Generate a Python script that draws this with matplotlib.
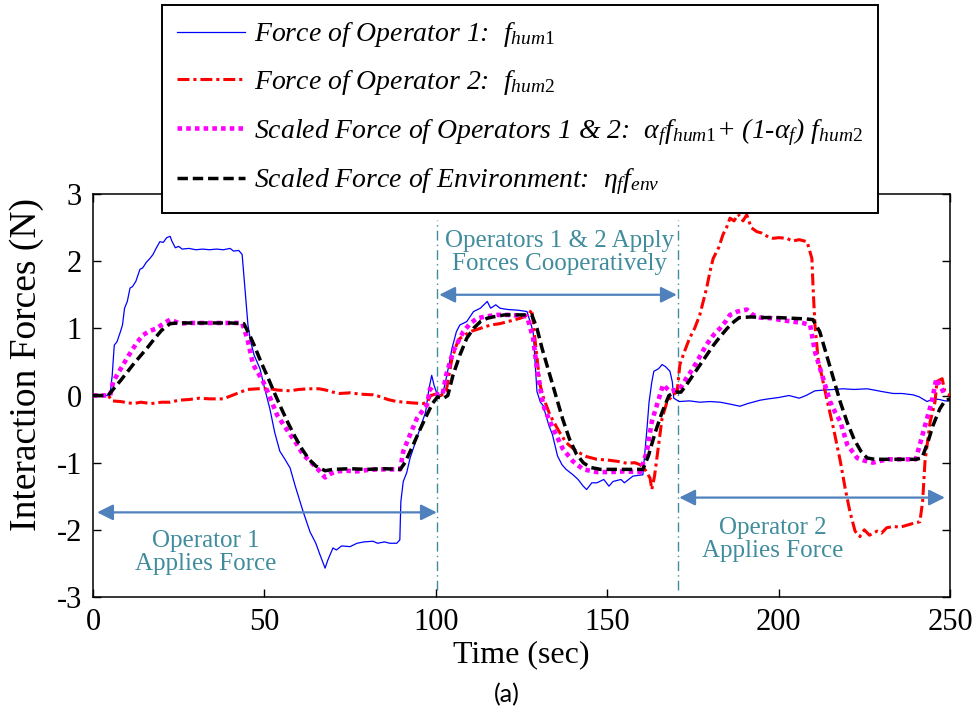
import numpy as np
import matplotlib
matplotlib.use('Agg')
import matplotlib.pyplot as plt

# interaction force traces (time in sec, force in N)
t_hum1 = [0, 4, 5, 5.6, 6.2, 7, 8, 8.6, 9.2, 10, 10.8, 11.5, 12.5, 13.7, 14.5, 15.5, 16.6, 17.5,
          18.5, 19.5, 20.5, 21.5, 22.5, 23, 24, 25, 26, 28, 30, 32, 34, 36, 38, 40, 41, 42.5, 43.5,
          44.3, 45.2, 46, 47, 48.7, 50, 51.6, 53, 54.5, 56, 57.5, 59, 61.3, 63.3, 65, 66.2, 67.7,
          68.5, 70, 71, 72.5, 75, 77, 79, 81.7, 83, 85, 86.6, 88.6, 89.5, 89.8, 90.5, 91.5, 92.5,
          94, 95.4, 97, 98, 98.8, 99.5, 100.5, 102, 103, 104, 104.7, 106, 107, 109, 111, 113, 115,
          116, 117.5, 118.7, 121, 124, 126.6, 128.4, 129.5, 130.5, 131.3, 133, 134, 135.5, 136.8,
          138, 140, 141.5, 143, 144, 145.5, 147, 149, 150.5, 151.7, 154, 155, 157.5, 160.4, 161.6,
          162.2, 163, 163.6, 165, 166, 167, 168.3, 169, 169.4, 171, 174, 177, 180, 183, 186, 188.7,
          191, 194.6, 197, 200, 203, 206, 208, 210.6, 213, 216, 218.8, 222, 225.8, 228, 230, 233.4,
          236, 239.2, 241, 243.3, 245, 247, 248.5, 250]
f_hum1 = [0, 0, 0.02, 0.3, 0.75, 0.8, 0.95, 1.05, 1.3, 1.4, 1.6, 1.62, 1.7, 1.88, 1.9, 1.98, 2.04, 2.1,
          2.2, 2.29, 2.28, 2.35, 2.37, 2.3, 2.2, 2.22, 2.18, 2.19, 2.17, 2.18, 2.17, 2.18, 2.17, 2.19,
          2.15, 2.16, 2.1, 1.6, 1.05, 0.8, 0.6, 0.4, 0.12, -0.2, -0.55, -0.83, -0.95, -1.08, -1.35,
          -1.73, -2.03, -2.2, -2.37, -2.57, -2.45, -2.27, -2.3, -2.24, -2.25, -2.2, -2.18, -2.17,
          -2.2, -2.18, -2.2, -2.2, -2.15, -1.58, -1.28, -1.15, -0.93, -0.7, -0.49, -0.25, 0.1, 0.3,
          0.15, 0.0, 0.02, 0.25, 0.5, 0.7, 0.95, 1.05, 1.1, 1.25, 1.3, 1.4, 1.3, 1.35, 1.3, 1.28,
          1.27, 1.25, 0.95, 0.06, -0.1, -0.15, -0.45, -0.58, -0.9, -1.03, -1.1, -1.18, -1.25, -1.35,
          -1.4, -1.3, -1.3, -1.25, -1.35, -1.28, -1.25, -1.3, -1.2, -1.18, -0.49, -0.1, 0.2, 0.36,
          0.4, 0.46, 0.43, 0.36, 0.2, -0.04, -0.09, -0.08, -0.1, -0.09, -0.1, -0.13, -0.16, -0.12,
          -0.07, -0.05, -0.03, 0.0, -0.04, 0.0, 0.07, 0.08, 0.09, 0.1, 0.09, 0.1, 0.08, 0.06, 0.03,
          0.03, 0.01, -0.02, -0.09, -0.05, -0.06, -0.08, -0.08]

t_hum2 = [0, 4.5, 5.5, 8, 11.7, 14, 17, 20, 22.5, 25, 28, 31, 34, 38, 41, 43, 45, 48, 51.6, 54, 57.5,
          60, 63, 66, 68, 70, 72, 75, 78, 81.7, 84, 86, 88.6, 91, 93, 96.3, 97.5, 98.5, 100, 101.5,
          103, 104.7, 106, 107, 110, 113, 116, 118.7, 121, 124.6, 127, 128, 129, 130.4, 131.5, 133.3,
          136, 138, 141, 144, 147, 150, 153, 155.8, 158, 159.6, 161, 162.5, 163, 163.8, 164.5, 166,
          167.4, 169, 170.4, 171.2, 172.5, 174, 175.5, 177, 178, 179, 180, 180.9, 182.5, 183.8, 184.8,
          185.8, 187, 188.2, 189.6, 190.7, 192, 193.6, 195, 197, 198.4, 200, 202.4, 204, 206, 208.3,
          209.7, 210.1, 210.6, 211.5, 213, 214, 216, 218, 219.4, 220.8, 222.3, 223.7, 225, 226.5,
          228.7, 230, 231.5, 233.4, 235.5, 237.5, 239.5, 241.2, 242, 242.7, 244.2, 245.6, 246.2,
          247.7, 248.5, 250]
f_hum2 = [0, 0, -0.08, -0.09, -0.12, -0.1, -0.12, -0.1, -0.1, -0.07, -0.06, -0.04, -0.05, -0.05, 0.01,
          0.05, 0.09, 0.1, 0.1, 0.08, 0.07, 0.09, 0.1, 0.1, 0.08, 0.05, 0.03, 0.04, 0.02, 0.01, -0.02,
          -0.06, -0.09, -0.1, -0.11, -0.12, -0.1, 0.0, 0.02, 0.0, 0.06, 0.55, 0.75, 0.85, 0.95, 1.0,
          1.05, 1.07, 1.1, 1.15, 1.2, 1.28, 0.8, 0.16, -0.05, -0.29, -0.54, -0.7, -0.83, -0.91, -0.95,
          -0.96, -0.98, -1.01, -1.0, -1.03, -1.1, -1.23, -1.4, -1.2, -0.93, -0.34, -0.1, 0.0, 0.06,
          0.46, 0.65, 0.85, 1.0, 1.2, 1.4, 1.6, 1.85, 2.04, 2.2, 2.4, 2.5, 2.64, 2.6, 2.7, 2.6, 2.69,
          2.5, 2.44, 2.42, 2.36, 2.34, 2.35, 2.34, 2.3, 2.32, 2.29, 2.04, 1.55, 1.05, 0.55, 0.2, -0.04,
          -0.49, -0.98, -1.38, -1.73, -2.02, -2.1, -2.0, -2.08, -2.02, -2.05, -1.97, -1.95, -1.96,
          -1.93, -1.9, -1.88, -1.58, -0.98, -0.39, -0.1, 0.21, 0.25, 0.06, 0.0]

t_mix = [0, 5, 5.9, 7.3, 8.8, 10.2, 11.7, 13, 14.6, 16.5, 18.6, 20.5, 22.5, 25.4, 28, 32, 36, 40, 43.5,
         45, 46.7, 49.6, 51, 52.5, 53.7, 55.5, 57.5, 59.5, 61.3, 63.3, 65.3, 67.7, 69.5, 71.2, 74, 77,
         80, 83, 86.6, 89.6, 90.5, 92.5, 94.5, 97.4, 98.3, 100.6, 102, 103, 105, 108, 110, 112, 115,
         117.8, 121, 124, 126.6, 128.4, 129.5, 131.3, 132.8, 134.2, 137, 140, 143, 147, 151, 155,
         159.6, 161.6, 163, 164.5, 166.3, 168.3, 171.2, 173, 175, 177, 179, 181, 182.9, 184.5, 185.8,
         188, 190.7, 192.5, 194.6, 198, 201, 204.2, 207, 209.2, 210.6, 213, 215, 216.5, 218, 220,
         222.9, 225, 227.5, 229, 232, 236, 240, 242, 243.3, 244.7, 246, 247.6, 248.5]
f_mix = [0, 0, 0.21, 0.33, 0.46, 0.58, 0.7, 0.8, 0.9, 0.96, 1.0, 1.07, 1.13, 1.07, 1.08, 1.08, 1.08,
         1.08, 1.08, 0.85, 0.46, 0.21, 0.05, -0.14, -0.29, -0.43, -0.58, -0.73, -0.88, -0.98, -1.08,
         -1.22, -1.16, -1.13, -1.12, -1.13, -1.11, -1.1, -1.1, -1.1, -0.83, -0.58, -0.34, -0.14, 0.1,
         0.01, 0.02, 0.3, 0.65, 0.95, 1.07, 1.15, 1.18, 1.2, 1.2, 1.19, 1.18, 0.85, 0.4, -0.14, -0.33,
         -0.49, -0.79, -0.98, -1.1, -1.14, -1.14, -1.13, -1.14, -0.83, -0.39, -0.14, 0.16, 0.06, 0.1,
         0.25, 0.4, 0.58, 0.76, 0.9, 1.0, 1.1, 1.2, 1.25, 1.28, 1.2, 1.16, 1.15, 1.12, 1.1, 1.08, 1.05,
         0.65, 0.25, -0.09, -0.25, -0.39, -0.73, -0.93, -0.97, -1.0, -0.98, -0.95, -0.95, -0.95, -0.58,
         -0.34, -0.09, 0.25, 0.1, 0.0]

t_env = [0, 4.4, 6, 8, 10, 12, 14, 16, 18, 20, 22.5, 25, 30, 35, 40, 44, 45.5, 47, 49, 51, 53, 55, 57,
         59, 61, 63, 65, 67.7, 70, 75, 80, 85, 89.6, 91, 93, 95, 97, 99, 100.5, 102, 103.5, 105, 107,
         109, 111, 113, 115, 116.7, 120, 124, 128, 129.5, 131, 133, 135, 137, 139, 141, 143, 145, 148,
         152, 156, 160.4, 162, 164, 166, 168, 170, 171.5, 173, 175, 177, 179, 181, 183, 185, 187,
         188.5, 192, 196, 200, 204, 208, 210, 212, 214, 216, 218, 220, 222, 224, 225.8, 228, 232, 236,
         240, 241.8, 243.5, 245, 247, 248.5, 250]
f_env = [0, 0, 0.1, 0.22, 0.35, 0.48, 0.6, 0.72, 0.85, 0.97, 1.07, 1.08, 1.08, 1.08, 1.08, 1.07, 0.92,
         0.75, 0.5, 0.27, 0.03, -0.2, -0.42, -0.62, -0.8, -0.95, -1.05, -1.12, -1.1, -1.09, -1.1,
         -1.09, -1.1, -1.0, -0.78, -0.55, -0.33, -0.12, -0.02, -0.05, 0.0, 0.3, 0.6, 0.85, 1.0, 1.1,
         1.15, 1.17, 1.2, 1.2, 1.2, 1.0, 0.7, 0.35, 0.0, -0.35, -0.65, -0.87, -1.0, -1.07, -1.1, -1.1,
         -1.1, -1.1, -0.9, -0.55, -0.25, 0.0, 0.05, 0.05, 0.15, 0.3, 0.45, 0.6, 0.75, 0.88, 1.0, 1.1,
         1.16, 1.17, 1.16, 1.16, 1.15, 1.14, 1.13, 0.95, 0.6, 0.25, -0.1, -0.4, -0.65, -0.83, -0.93,
         -0.95, -0.95, -0.95, -0.95, -0.93, -0.7, -0.45, -0.2, -0.08, -0.05]

# phase boundaries and annotations
phase_edges = [100.3, 170.5]
phase_arrows = [(1.2, 100.3, -1.74), (101.0, 170.3, 1.50), (171.0, 248.5, -1.52)]
phase_texts = [(32.8, -2.34, 'Operator 1\nApplies Force'),
               (136.0, 2.13, 'Operators 1 & 2 Apply\nForces Cooperatively'),
               (198.4, -2.15, 'Operator 2\nApplies Force')]

plt.rcParams['font.family'] = ['Liberation Serif', 'DejaVu Serif']
plt.rcParams['mathtext.fontset'] = 'custom'
plt.rcParams['mathtext.rm'] = 'Liberation Serif'
plt.rcParams['mathtext.it'] = 'Liberation Serif:italic'
plt.rcParams['mathtext.bf'] = 'Liberation Serif:bold'
plt.rcParams['axes.unicode_minus'] = False

fig = plt.figure(figsize=(9.77, 7.13), dpi=100)
ax = fig.add_axes([0.0952, 0.1627, 0.8772, 0.5652])

teal = '#408c9d'
arrow_c = '#4f81bd'

for xe in phase_edges:
    ax.plot([xe, xe], [-2.89, 2.62], color=teal, lw=1.0, ls=(0, (7, 3, 1, 3)), zorder=1)

l1, = ax.plot(t_hum1, f_hum1, color='#0000ff', lw=0.9, zorder=2)
l2, = ax.plot(t_hum2, f_hum2, color='#ff0000', lw=2.2, ls=(0, (3.9, 1.3, 1.0, 1.3)), zorder=3)
l3, = ax.plot(t_mix, f_mix, color='#ff00ff', lw=3.3, ls=(0, (1.0, 0.9)), zorder=4)
l4, = ax.plot(t_env, f_env, color='black', lw=2.5, ls=(0, (3.0, 1.4)), zorder=5)

for xa, xb, ya in phase_arrows:
    ax.annotate('', xy=(xa, ya), xytext=(xb, ya),
                arrowprops=dict(arrowstyle='<|-|>', color=arrow_c, lw=1.6,
                                mutation_scale=24, shrinkA=0, shrinkB=0), zorder=6)

for xt, yt, s in phase_texts:
    ax.text(xt, yt, s, color=teal, fontsize=18, ha='center', va='center',
            linespacing=1.05, zorder=6)

ax.set_xlim(0, 250)
ax.set_ylim(-3, 3)
ax.set_xticks([0, 50, 100, 150, 200, 250])
ax.set_yticks([-3, -2, -1, 0, 1, 2, 3])
ax.tick_params(direction='in', top=True, right=True, length=6, width=1.0,
               labelsize=22, pad=8)
for sp in ax.spines.values():
    sp.set_linewidth(1.1)

ax.set_xlabel('Time (sec)', fontsize=23, labelpad=2)
ax.set_ylabel('Interaction Forces (N)', fontsize=27)
ax.yaxis.set_label_coords(-0.057, 0.578)

labels = [r'Force of Operator 1:  $f_{\mathit{hum1}}$',
          r'Force of Operator 2:  $f_{\mathit{hum2}}$',
          r'Scaled Force of Operators 1 & 2:  $\alpha_f f_{\mathit{hum1}}$+ (1-$\alpha_f$) $f_{\mathit{hum2}}$',
          r'Scaled Force of Environment:  $\eta_f f_{\mathit{env}}$']
leg = ax.legend([l1, l2, l3, l4], labels, loc='upper left', bbox_to_anchor=(0.0805, 1.469),
                prop={'family': 'Liberation Serif', 'style': 'italic', 'size': 20},
                frameon=True, fancybox=False, framealpha=1, edgecolor='black',
                handlelength=2.45, handletextpad=0.3, borderpad=0.55, labelspacing=0.68,
                borderaxespad=0)
leg.get_frame().set_linewidth(1.4)
leg.set_zorder(10)

fig.text(507 / 977, 1 - 695 / 713, '(a)', fontsize=18, family='Lato', ha='center', va='center')

plt.savefig('out.png', dpi=100)
